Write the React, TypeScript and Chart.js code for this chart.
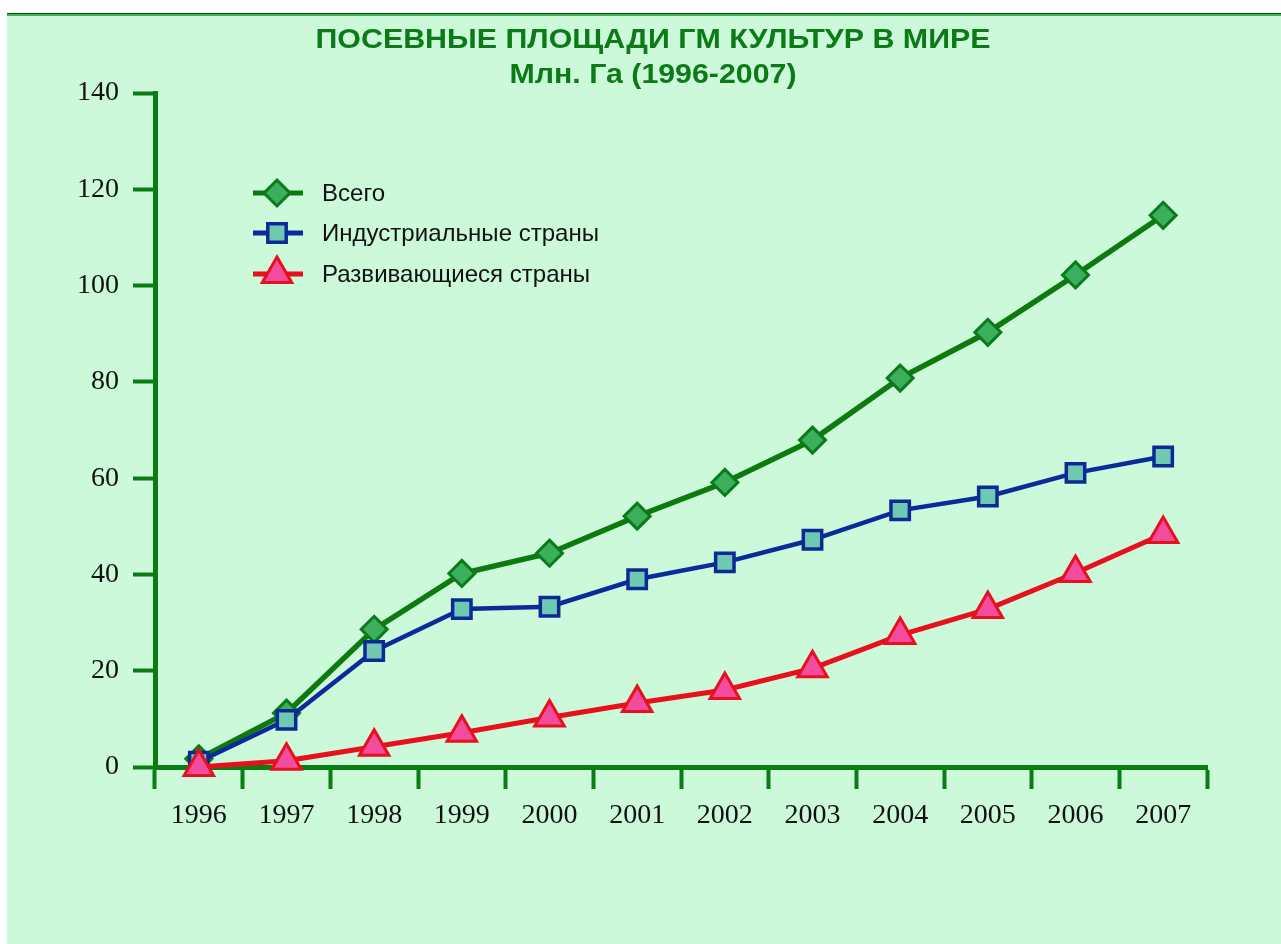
import React, { useEffect, useRef } from 'react';
import { Chart, registerables } from 'chart.js';
import { drawPoint } from 'chart.js/helpers';

Chart.register(...registerables);

const years = ['1996', '1997', '1998', '1999', '2000', '2001', '2002', '2003', '2004', '2005', '2006', '2007'];
const totalArea = [1.7, 11.2, 28.6, 40.2, 44.4, 52.1, 59.1, 67.9, 80.8, 90.3, 102.2, 114.6];
const industrialArea = [1.1, 9.8, 24.1, 32.8, 33.3, 39.0, 42.5, 47.2, 53.3, 56.2, 61.1, 64.5];
const developingArea = [0.0, 1.3, 4.2, 7.1, 10.3, 13.3, 16.0, 20.5, 27.4, 32.8, 40.3, 48.4];
const seriesNames = ['Всего', 'Индустриальные страны', 'Развивающиеся страны'];
const titleLines = ['ПОСЕВНЫЕ ПЛОЩАДИ ГМ КУЛЬТУР В МИРЕ', 'Млн. Га (1996-2007)'];
const yTicks = { min: 0, max: 140, step: 20 };

const AXIS_GREEN = '#0a7d12';
const TITLE_GREEN = '#0b7a17';

const titlePlugin = {
  id: 'customTitle',
  afterDraw(chart: any) {
    const ctx = chart.ctx;
    const specs = [
      { text: titleLines[0], cx: 646, cy: 24, w: 675 },
      { text: titleLines[1], cx: 646, cy: 59, w: 287 },
    ];
    ctx.save();
    ctx.fillStyle = TITLE_GREEN;
    ctx.font = "bold 28px 'Liberation Sans', Arial, sans-serif";
    ctx.textBaseline = 'middle';
    ctx.textAlign = 'center';
    specs.forEach((s) => {
      const m = ctx.measureText(s.text).width;
      const k = s.w / m;
      ctx.save();
      ctx.translate(s.cx, s.cy);
      ctx.scale(k, 1);
      ctx.fillText(s.text, 0, 0);
      ctx.restore();
    });
    ctx.restore();
  },
};

const legendPlugin = {
  id: 'customLegend',
  afterDraw(chart: any) {
    const ctx = chart.ctx;
    const rows = [177, 217, 258];
    ctx.save();
    ctx.font = "24px 'Liberation Sans', Arial, sans-serif";
    const longest = ctx.measureText(seriesNames[1]).width;
    const k = 277 / longest;
    chart.data.datasets.forEach((ds: any, i: number) => {
      const y = rows[i];
      ctx.save();
      ctx.strokeStyle = ds.borderColor;
      ctx.lineWidth = 5;
      ctx.beginPath();
      ctx.moveTo(246, y);
      ctx.lineTo(296, y);
      ctx.stroke();
      ctx.fillStyle = ds.pointBackgroundColor;
      ctx.strokeStyle = ds.pointBorderColor;
      ctx.lineWidth = ds.pointBorderWidth;
      drawPoint(ctx, { pointStyle: ds.pointStyle, radius: ds.pointRadius, rotation: 0, borderWidth: ds.pointBorderWidth }, 270, y);
      ctx.restore();
      ctx.save();
      ctx.fillStyle = '#111';
      ctx.textBaseline = 'middle';
      ctx.textAlign = 'left';
      ctx.translate(315, y);
      ctx.scale(k, 1);
      ctx.fillText(ds.label, 0, 1);
      ctx.restore();
    });
    ctx.restore();
  },
};

export default function App() {
  const ref = useRef<HTMLCanvasElement | null>(null);

  useEffect(() => {
    if (!ref.current) return;
    const tickFont = { family: "'Liberation Serif', 'Times New Roman', serif", size: 28 };
    const chart = new Chart(ref.current, {
      type: 'line',
      data: {
        labels: years,
        datasets: [
          {
            label: seriesNames[0],
            data: totalArea,
            borderColor: '#0c7a0c',
            borderWidth: 5.5,
            pointStyle: 'rectRot',
            pointRadius: 13,
            pointBackgroundColor: '#3caf5c',
            pointBorderColor: '#0b7a1a',
            pointBorderWidth: 3,
            tension: 0,
            order: 3,
            clip: false,
          },
          {
            label: seriesNames[1],
            data: industrialArea,
            borderColor: '#0d2a9a',
            borderWidth: 4.5,
            pointStyle: 'rect',
            pointRadius: 13,
            pointBackgroundColor: '#6fc9b2',
            pointBorderColor: '#0b2a94',
            pointBorderWidth: 3.5,
            tension: 0,
            order: 2,
            clip: false,
          },
          {
            label: seriesNames[2],
            data: developingArea,
            borderColor: '#e8101c',
            borderWidth: 5,
            pointStyle: 'triangle',
            pointRadius: 17,
            pointBackgroundColor: '#f24c9e',
            pointBorderColor: '#e8101c',
            pointBorderWidth: 3,
            tension: 0,
            order: 1,
            clip: false,
          },
        ] as any,
      },
      options: {
        responsive: false,
        animation: false,
        devicePixelRatio: 1,
        layout: { padding: { top: 77, right: 74, left: 0, bottom: 0 } },
        plugins: {
          legend: { display: false },
          title: { display: false },
          tooltip: { enabled: false },
        },
        scales: {
          x: {
            type: 'category',
            offset: true,
            afterFit: (scale: any) => {
              scale.height = 177;
            },
            grid: {
              offset: true,
              drawOnChartArea: false,
              drawTicks: true,
              tickLength: 22,
              tickWidth: 4,
              tickColor: AXIS_GREEN,
            },
            border: { display: true, color: AXIS_GREEN, width: 5 },
            ticks: { font: tickFont, color: '#111', padding: 10, maxRotation: 0, autoSkip: false },
          },
          y: {
            min: yTicks.min,
            max: yTicks.max,
            afterFit: (scale: any) => {
              scale.width = 148;
            },
            grid: {
              drawOnChartArea: false,
              drawTicks: true,
              tickLength: 22,
              tickWidth: 4,
              tickColor: AXIS_GREEN,
            },
            border: { display: true, color: AXIS_GREEN, width: 5 },
            ticks: { stepSize: yTicks.step, font: tickFont, color: '#111', padding: 14 },
          },
        },
      } as any,
      plugins: [titlePlugin, legendPlugin],
    });
    return () => chart.destroy();
  }, []);

  return (
    <div
      style={{
        position: 'fixed',
        left: 7,
        top: 13,
        width: 1274,
        height: 931,
        borderTop: '1px solid #104d18',
        boxSizing: 'border-box',
        background: '#cbf9da',
      }}
    >
      <div style={{ borderTop: '2px solid #45b255', background: '#cbf9da' }}>
        <canvas ref={ref} width={1274} height={928} style={{ display: 'block' }} />
      </div>
    </div>
  );
}
